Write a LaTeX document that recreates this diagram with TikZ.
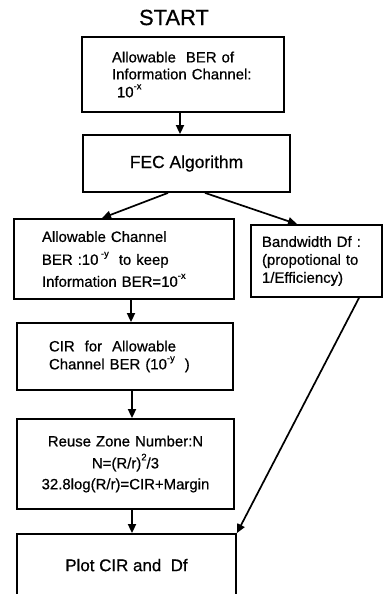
\documentclass[tikz,border=0pt]{standalone}
\usepackage{fontspec}
\setmainfont{Liberation Sans}[FakeBold=0.6]
\usetikzlibrary{arrows.meta}
\newcommand\sups[1]{\raisebox{8bp}{\fontsize{9.5}{9.5}\selectfont #1}}
\tikzset{
  box/.style={draw, line width=1.8bp, inner ysep=0pt, font=\fontsize{15}{17}\selectfont},
  arr/.style={line width=1.7bp, -{Triangle[length=9bp,width=8bp]}}
}
\begin{document}
\begin{tikzpicture}[x=1bp,y=-1bp]
\useasboundingbox (0,0) rectangle (383,594);
\clip (0,0) rectangle (383,594);
\node (start) at (174,17.5) {\fontsize{22}{24}\selectfont START};
\node[box, minimum height=75bp, inner xsep=30bp, text width=142bp, align=left] (b1) at (183,74.5)
  {Allowable\ \ BER of\\ Information\ Channel:\\[1bp] \ 10\sups{-x}};
\node[box, minimum height=57bp, minimum width=207bp, font=\fontsize{17.5}{19}\selectfont] (b2) at (186.5,163.5) {FEC Algorithm};
\node[box, minimum height=80bp, inner xsep=28bp, text width=164bp, align=left] (b3) at (124,259)
  {Allowable Channel\\[6bp] BER :10\,\sups{-y}\ \ to keep\\[5bp] Information BER=10\sups{-x}};
\node[box, minimum height=72bp, inner xsep=11bp, text width=109bp, align=left] (b4) at (316.5,261)
  {Bandwidth Df :\\[1bp] (propotional to\\[1bp] 1/Efficiency)};
\node[box, minimum height=67bp, inner xsep=32bp, text width=152bp, align=left] (b5) at (125,356.5)
  {CIR\ \ for\ \ Allowable\\[1bp] Channel BER (10\sups{-y}\ \ )};
\node[box, minimum height=90bp, inner xsep=8bp, text width=201bp, align=center] (b6) at (125.5,464)
  {Reuse Zone Number:N\\[5bp] N=(R/r)\sups{2}/3\hspace*{22bp}\\[4bp] 32.8log(R/r)=CIR+Margin};
\node[box, minimum height=66bp, minimum width=219bp, font=\fontsize{17}{19}\selectfont] (b7) at (126.5,567)
  {\raisebox{4bp}{Plot CIR and\ \ Df}};
\draw[arr] ([xshift=-3bp]b1.south) -- ([xshift=-3bp]b1.south |- b2.north);
\draw[arr] ([xshift=-18.5bp]b2.south) -- ([xshift=-22bp]b3.north);
\draw[arr] ([xshift=18.5bp]b2.south) -- ([xshift=-19.5bp]b4.north);
\draw[arr] ([xshift=7bp]b3.south) -- ([xshift=7bp]b3.south |- b5.north);
\draw[arr] ([xshift=7bp]b5.south) -- ([xshift=7bp]b5.south |- b6.north);
\draw[arr] ([xshift=6.5bp]b6.south) -- ([xshift=6.5bp]b6.south |- b7.north);
\draw[arr] ([xshift=42.5bp]b4.south) -- (b7.north east);
\end{tikzpicture}
\end{document}
